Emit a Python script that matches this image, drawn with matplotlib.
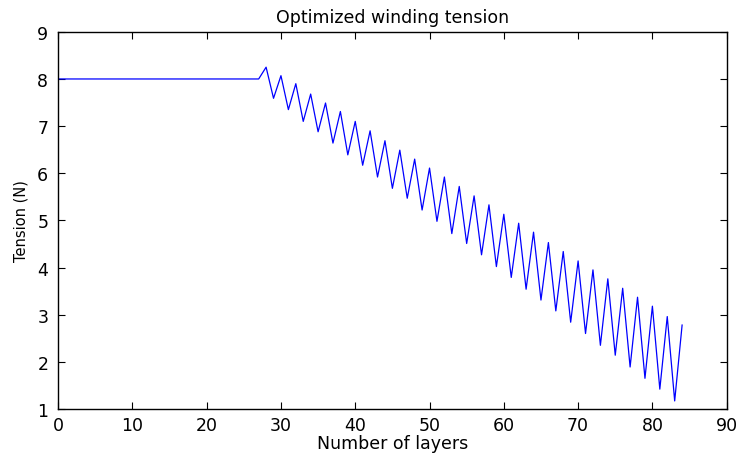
import matplotlib
matplotlib.use("Agg")
import matplotlib.pyplot as plt

layers = list(range(0, 85))
flat_tension = [8.0] * 28  # layers 0..27
zigzag_tension = [
    8.25, 7.59, 8.07, 7.35, 7.90, 7.10, 7.68, 6.88, 7.49, 6.64,   # 28-37
    7.31, 6.39, 7.10, 6.17, 6.90, 5.92, 6.69, 5.68, 6.49, 5.47,   # 38-47
    6.30, 5.22, 6.11, 4.98, 5.92, 4.72, 5.72, 4.51, 5.52, 4.27,   # 48-57
    5.33, 4.02, 5.13, 3.79, 4.94, 3.54, 4.75, 3.31, 4.53, 3.08,   # 58-67
    4.34, 2.84, 4.14, 2.60, 3.95, 2.35, 3.76, 2.14, 3.56, 1.89,   # 68-77
    3.37, 1.65, 3.18, 1.42, 2.96, 1.17, 2.78,                     # 78-84
]
tension = flat_tension + zigzag_tension

xticks = list(range(0, 91, 10))
yticks = list(range(1, 10))

plt.rcParams['font.family'] = ['DejaVu Sans']

fig = plt.figure(figsize=(7.4, 4.56), dpi=100)
ax = fig.add_axes([0.0785, 0.101, 0.9035, 0.827])
ax.plot(layers, tension, color='#0000ff', linewidth=0.9)
ax.set_xlim(0, 90)
ax.set_ylim(1, 9)
ax.set_xticks(xticks)
ax.set_yticks(yticks)
ax.tick_params(direction='in', length=5, width=0.8, labelsize=12.5,
               top=True, right=True)
ax.tick_params(axis='x', pad=5)
ax.tick_params(axis='y', pad=7)
for s in ax.spines.values():
    s.set_linewidth(1.0)
ax.set_xlabel('Number of layers', fontsize=12.5, labelpad=0)
ax.set_ylabel('Tension (N)', fontsize=10.5, labelpad=6)
ax.set_title('Optimized winding tension', fontsize=12.5, pad=7)

fig.savefig('out.png', dpi=100)
